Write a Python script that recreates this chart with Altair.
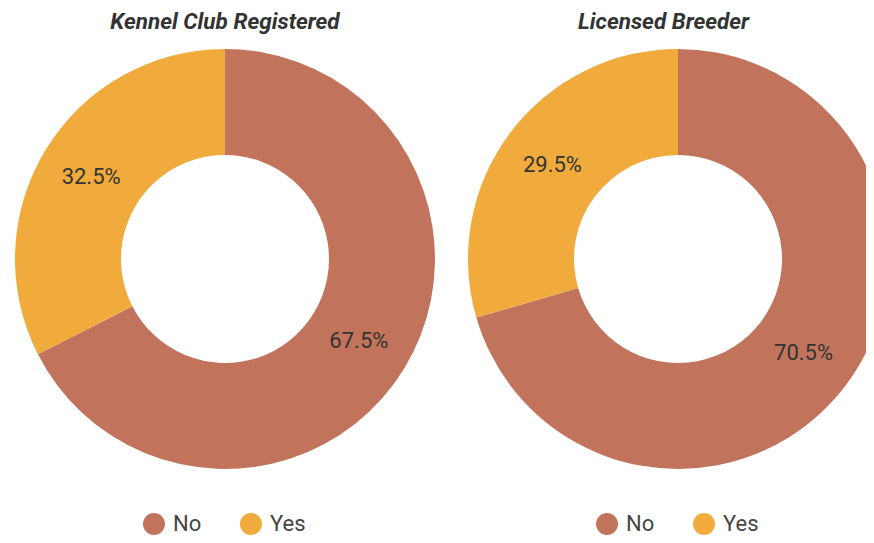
import altair as alt
import pandas as pd

categories = ["No", "Yes"]
kennel_values = [67.5, 32.5]
breeder_values = [70.5, 29.5]
titles = ["Kennel Club Registered", "Licensed Breeder"]
colors = ["#C1735B", "#F0AB3C"]

FONT = "Roboto"
CX, CY = 217, 222
R_OUT, R_IN = 210, 104


def panel(values, title, width, clip):
    df = pd.DataFrame({"answer": categories, "value": values})
    base = alt.Chart(df).transform_calculate(
        label="format(datum.value, '.1f') + '%'"
    )
    arc = base.mark_arc(outerRadius=R_OUT, innerRadius=R_IN, clip=clip).encode(
        theta=alt.Theta("value:Q", stack=True),
        color=alt.Color(
            "answer:N",
            scale=alt.Scale(domain=categories, range=colors),
            legend=alt.Legend(
                title=None,
                orient="none",
                direction="horizontal",
                legendX=CX - 82,
                legendY=476,
                symbolType="circle",
                symbolSize=484,
                symbolStrokeWidth=0,
                labelFontSize=22,
                labelFont=FONT,
                labelColor="#444444",
                labelOffset=8,
                columnPadding=38,
            ),
        ),
        order=alt.Order("answer:N"),
        x=alt.value(CX),
        y=alt.value(CY),
    )
    text = base.mark_text(radius=(R_OUT + R_IN) / 2, fontSize=22, font=FONT, color="#333333").encode(
        theta=alt.Theta("value:Q", stack=True),
        text="label:N",
        order=alt.Order("answer:N"),
        x=alt.value(CX),
        y=alt.value(CY),
    )
    return alt.layer(arc, text).properties(
        width=width,
        height=498,
        title=alt.TitleParams(
            text=title,
            fontSize=22.5,
            fontWeight="bold",
            fontStyle="italic",
            font=FONT,
            color="#333333",
            anchor="middle",
            offset=4,
        ),
    )


left = panel(kennel_values, titles[0], 434, False)
right = panel(breeder_values, titles[1], 405, True)

chart = (
    alt.hconcat(left, right, spacing=19)
    .resolve_scale(color="independent", theta="independent")
    .properties(padding={"top": 2, "left": 0, "right": 0, "bottom": 0})
    .configure_view(stroke=None)
)

chart.save("out.html", embed_options={"renderer": "svg", "actions": False})
